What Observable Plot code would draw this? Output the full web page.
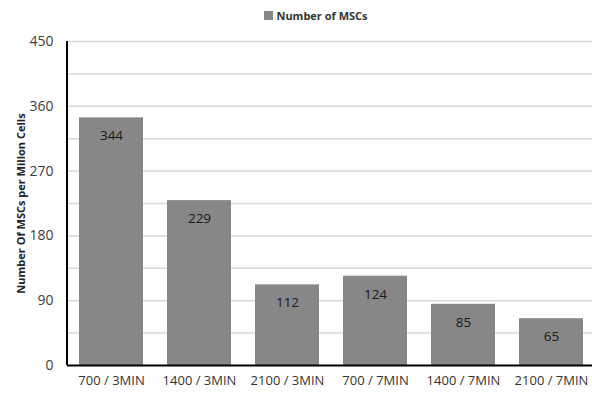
<!DOCTYPE html>
<html>
<head>
<meta charset="utf-8">
<script src="https://cdn.jsdelivr.net/npm/d3@7"></script>
<script src="https://cdn.jsdelivr.net/npm/@observablehq/plot@0.6"></script>
<style>
  body { margin: 0; background: #fff; font-family: "Open Sans", sans-serif; overflow: hidden; }
  #legend { height: 30px; display: flex; align-items: center; justify-content: center; padding-left: 40px; box-sizing: border-box;
            font-size: 11px; font-weight: bold; color: #333; }
  #legend .sw { width: 9px; height: 9px; background: #878787; margin-right: 3px; }
  #chart svg { display: block; }
</style>
</head>
<body>
<div id="legend"><span class="sw"></span><span>Number of MSCs</span></div>
<div id="chart"></div>
<script>
const categories = ["700 / 3MIN", "1400 / 3MIN", "2100 / 3MIN", "700 / 7MIN", "1400 / 7MIN", "2100 / 7MIN"];
const counts = [344, 229, 112, 124, 85, 65];
const yTicks = [0, 90, 180, 270, 360, 450];
const gridTicks = [45, 90, 135, 180, 225, 270, 315, 360, 405, 450];

const data = categories.map((c, i) => ({category: c, value: counts[i]}));

const chart = Plot.plot({
  width: 592,
  height: 366,
  marginLeft: 67,
  marginRight: -3,
  marginTop: 11,
  marginBottom: 31,
  style: {fontFamily: "Open Sans, sans-serif", fontSize: "12px", color: "#404040", background: "#fff", overflow: "visible"},
  x: {domain: categories, paddingInner: 0.27, paddingOuter: 0.135, label: null, tickSize: 0, tickPadding: 10},
  y: {domain: [0, 450], label: null},
  marks: [
    Plot.ruleY(gridTicks, {stroke: "#d9d9d9", strokeWidth: 1.5}),
    Plot.barY(data, {x: "category", y: "value", fill: "#878787"}),
    Plot.text(data, {x: "category", y: "value", text: d => String(d.value), dy: 18, fill: "#1a1a1a", fontSize: 13.5}),
    Plot.axisX({tickSize: 0, tickPadding: 10, fontSize: 13, fill: "#333"}),
    Plot.axisY({ticks: yTicks, tickSize: 0, tickPadding: 14, fontSize: 14, fill: "#404040", label: null}),
    Plot.ruleY([0], {stroke: "#000", strokeWidth: 2}),
    Plot.axisY({ticks: [], tickSize: 0, label: "Number Of MSCs per Millon Cells", labelAnchor: "center", labelArrow: "none", labelOffset: 50, fontSize: 11, fontWeight: "bold", fill: "#222"})
  ]
});

// vertical axis line along the left edge of the frame
const svg = d3.select(chart);
svg.append("line")
  .attr("x1", 67).attr("x2", 67).attr("y1", 11).attr("y2", 335)
  .attr("stroke", "#000").attr("stroke-width", 2);

document.getElementById("chart").appendChild(chart);
</script>
</body>
</html>
